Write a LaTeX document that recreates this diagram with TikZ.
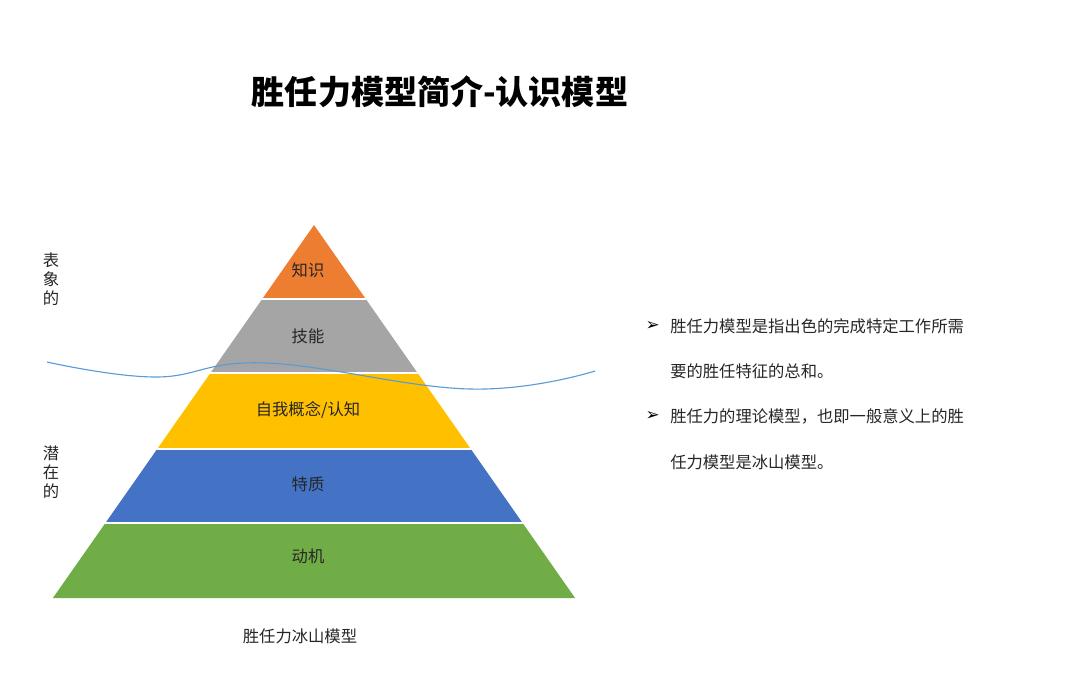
\documentclass[tikz,border=0pt]{standalone}
\usepackage{fontspec}
\usepackage{tikz}
\usetikzlibrary{
    positioning
}
\setmainfont{Noto Sans CJK SC}
\newfontfamily\arrowfont{DejaVu Sans}

\definecolor{zhishiorange}{HTML}{ED7D31}
\definecolor{jinenggray}{HTML}{A5A5A5}
\definecolor{gainianyellow}{HTML}{FFC000}
\definecolor{tezhiblue}{HTML}{4472C4}
\definecolor{dongjigreen}{HTML}{70AD47}
\definecolor{wavecolor}{HTML}{5B9BD5}
\definecolor{inkgray}{HTML}{262626}

\tikzset{
    layertext/.style={
        font=\fontsize{11.6}{14}\selectfont,
        text=inkgray,
        inner sep=0pt
    },
    sidetext/.style={
        font=\fontsize{11.6}{13.6}\selectfont,
        text=inkgray,
        align=center,
        inner sep=0pt
    },
    bullettext/.style={
        font=\fontsize{11.6}{14}\selectfont,
        text=inkgray,
        anchor=west,
        inner sep=0pt
    },
    bulletmark/.style={
        font=\arrowfont\bfseries\fontsize{12}{13}\selectfont,
        text=black,
        inner sep=0pt
    },
    waterline/.style={
        draw=wavecolor,
        line width=0.8pt
    }
}

\begin{document}
\begin{tikzpicture}[
    x=0.025cm,
    y=-0.025cm
]
    \useasboundingbox (0,0) rectangle (1080,680);

    % Titulo
    \node[font=\fontsize{23.5}{28}\selectfont\bfseries, text=black]
        (titulo) at (440,92) {胜任力模型简介-认识模型};

    % Capas de la piramide
    \foreach \ytop/\ybot/\col/\ylab/\name/\txt in {
        225/299/zhishiorange/270/zhishi/{知识},
        299/373/jinenggray/336/jineng/{技能},
        373/449/gainianyellow/410/gainian/{自我概念/认知},
        449/523/tezhiblue/484/tezhi/{特质},
        523/598/dongjigreen/556/dongji/{动机}}
    {
        \fill[\col]
            ({314-0.7*(\ytop-225)},\ytop) -- ({314+0.7*(\ytop-225)},\ytop)
            -- ({314+0.7*(\ybot-225)},\ybot) -- ({314-0.7*(\ybot-225)},\ybot)
            -- cycle;
        \draw[white, line width=1.3pt]
            ({314-0.7*(\ytop-225)},\ytop) -- ({314+0.7*(\ytop-225)},\ytop);
        \node[layertext] (\name) at (308,\ylab) {\txt};
    }

    % Linea de agua
    \draw[waterline]
        plot[smooth, tension=0.7] coordinates {
            (47,362) (155,377) (266,363) (470,389) (595,371)
        };

    % Etiquetas laterales
    \node[sidetext] (biaoxiang) at (51,279) {表\\象\\的};
    \node[sidetext] (qianzai)   at (51,472) {潜\\在\\的};

    % Pie
    \node[layertext] (pie) at (300,636) {胜任力冰山模型};

    % Texto a la derecha
    \node[bullettext] (linea1) at (670,326) {胜任力模型是指出色的完成特定工作所需};
    \node[bullettext] (linea2) at (670,371) {要的胜任特征的总和。};
    \node[bullettext] (linea3) at (670,416) {胜任力的理论模型，也即一般意义上的胜};
    \node[bullettext] (linea4) at (670,462) {任力模型是冰山模型。};
    \node[bulletmark, left=10 of linea1] (marca1) {➢};
    \node[bulletmark, left=10 of linea3] (marca2) {➢};

\end{tikzpicture}
\end{document}
